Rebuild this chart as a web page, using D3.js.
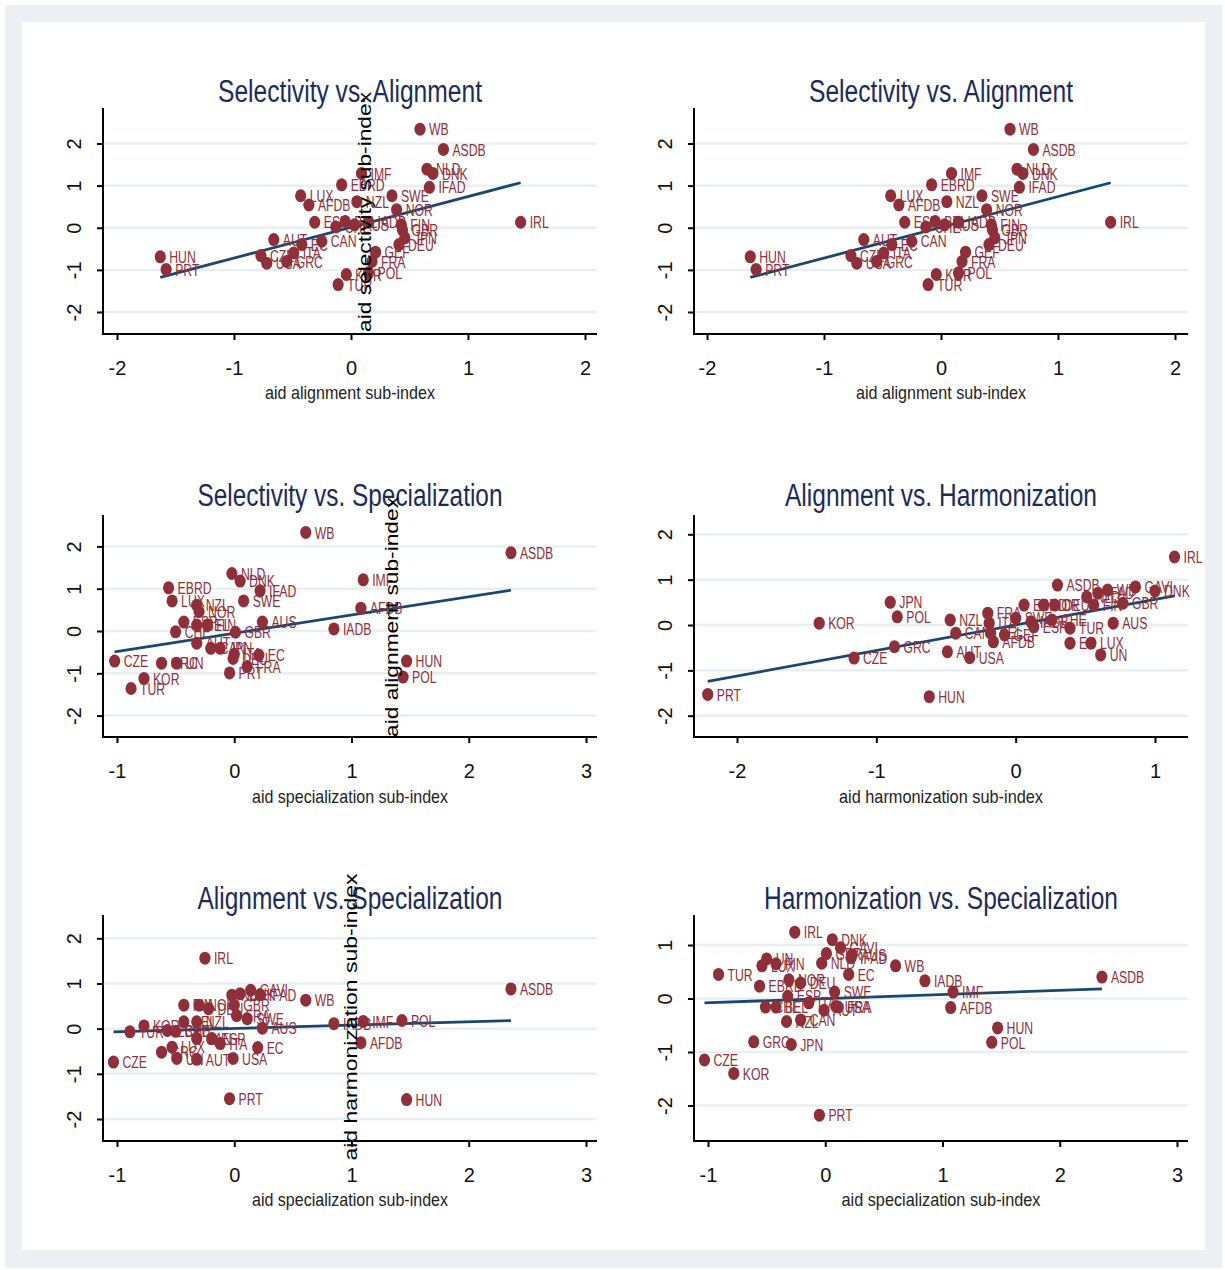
<!DOCTYPE html>
<html><head><meta charset="utf-8">
<script src="https://cdn.jsdelivr.net/npm/d3@7"></script>
<style>body{margin:0;background:#fff}svg{display:block}</style>
</head><body><svg id="c" width="1225" height="1270"></svg>
<script>
// ---------- DATA ----------
// Panel 1 & 2: Selectivity (y) vs Alignment (x)
const sa_donor = ["HUN","PRT","AUT","CZE","USA","GRC","ITA","EC","CAN","ESP","LUX","AFDB","EBRD","IMF","NZL","SWE","NOR","CHE","BEL","AUS","IADB","FIN","GBR","JPN","DEU","GEF","FRA","POL","KOR","TUR","WB","ASDB","NLD","DNK","IFAD","IRL"];
const sa_alignment = [-1.63,-1.58,-0.66,-0.77,-0.72,-0.55,-0.49,-0.42,-0.25,-0.31,-0.43,-0.36,-0.08,0.09,0.05,0.35,0.39,-0.13,-0.05,0.03,0.15,0.43,0.44,0.46,0.41,0.21,0.18,0.15,-0.04,-0.11,0.59,0.79,0.65,0.70,0.67,1.45];
const sa_selectivity = [-0.69,-0.99,-0.28,-0.66,-0.84,-0.80,-0.60,-0.40,-0.32,0.13,0.76,0.54,1.02,1.29,0.62,0.76,0.43,0.02,0.15,0.07,0.13,0.07,-0.05,-0.24,-0.40,-0.58,-0.80,-1.07,-1.11,-1.35,2.34,1.86,1.39,1.29,0.96,0.13];

// Panel 3: Selectivity (y) vs Specialization (x)
const ss_donor = ["WB","NLD","DNK","IFAD","EBRD","LUX","SWE","NZL","NOR","AUS","ESP","CHE","BEL","FIN","GBR","AUT","CAN","JPN","DEU","ITA","EC","FRA","PRT","CZE","GRC","UN","KOR","TUR","IMF","AFDB","IADB","HUN","POL","ASDB"];
const ss_specialization = [.61,-.02,.05,.22,-.56,-.53,.08,-.32,-.30,.24,-.43,-.50,-.32,-.23,.01,-.32,-.20,-.12,-.01,.00,.21,.11,-.04,-1.02,-.62,-.49,-.77,-.88,1.10,1.08,.85,1.47,1.44,2.36];
const ss_selectivity = [2.33,1.36,1.18,.95,1.02,.71,.71,.61,.46,.21,.21,-.02,.14,.14,-.03,-.29,-.41,-.41,-.65,-.55,-.57,-.84,-.99,-.71,-.76,-.76,-1.12,-1.36,1.21,.54,.05,-.71,-1.09,1.85];

// Panel 4: Alignment (y) vs Harmonization (x)
const ah_donor = ["PRT","KOR","CZE","JPN","POL","GRC","HUN","NZL","CAN","AUT","USA","FRA","ITA","BEL","AFDB","GEF","SWE","IADB","ESP","EBRD","NOR","DEU","CHE","ASDB","EC","TUR","NLD","FIN","IFAD","WB","LUX","UN","AUS","GBR","GAVI","DNK","IRL"];
const ah_harmonization = [-2.21,-1.41,-1.16,-0.90,-0.85,-0.87,-0.62,-0.47,-0.43,-0.49,-0.33,-0.20,-0.19,-0.18,-0.16,-0.08,0.00,0.11,0.13,0.06,0.20,0.28,0.26,0.30,0.39,0.39,0.51,0.56,0.59,0.66,0.54,0.61,0.70,0.77,0.86,1.00,1.14];
const ah_alignment = [-1.53,0.04,-0.73,0.50,0.18,-0.48,-1.58,0.11,-0.18,-0.59,-0.72,0.26,0.04,-0.18,-0.37,-0.22,0.15,0.07,-0.04,0.44,0.44,0.44,0.11,0.88,-0.40,-0.07,0.62,0.44,0.70,0.77,-0.40,-0.66,0.04,0.48,0.84,0.75,1.50];

// Panel 5: Alignment (y) vs Specialization (x)
const as_donor = ["IRL","CZE","PRT","TUR","KOR","AUS","EC","USA","WB","GAVI","IFAD","AUT","UN","GRC","LUX","ITA","CAN","ESP","EBRD","CHE","NZL","BEL","FIN","NOR","DEU","NLD","DNK","SWE","FRA","GBR","ASDB","IADB","IMF","POL","AFDB","HUN"];
const as_specialization = [-0.25,-1.03,-0.04,-0.89,-0.77,0.24,0.20,-0.01,0.61,0.14,0.22,-0.32,-0.49,-0.62,-0.53,-0.12,-0.32,-0.19,-0.57,-0.50,-0.32,-0.43,-0.43,-0.30,-0.22,-0.02,0.05,0.11,0.02,0.00,2.36,0.85,1.10,1.43,1.08,1.47];
const as_alignment = [1.56,-0.74,-1.55,-0.07,0.06,0.01,-0.42,-0.66,0.63,0.85,0.75,-0.68,-0.66,-0.52,-0.41,-0.33,-0.22,-0.22,-0.04,-0.06,0.15,0.15,0.52,0.52,0.44,0.74,0.77,0.22,0.29,0.52,0.88,0.11,0.16,0.18,-0.31,-1.57];

// Panel 6: Harmonization (y) vs Specialization (x)
const hs_donor = ["IRL","DNK","GAVI","GBR","NLD","IFAD","AUS","WB","EC","TUR","UN","LUX","FIN","EBRD","NOR","DEU","ESP","ITA","CHE","BEL","NZL","CAN","AUT","USA","SWE","FRA","GRC","JPN","CZE","KOR","PRT","IADB","IMF","AFDB","HUN","POL","ASDB"];
const hs_specialization = [-0.26,0.06,0.13,0.01,-0.03,0.22,0.23,0.60,0.20,-0.91,-0.50,-0.54,-0.42,-0.56,-0.31,-0.21,-0.32,-0.14,-0.51,-0.42,-0.33,-0.21,-0.01,0.09,0.08,0.11,-0.61,-0.29,-1.03,-0.78,-0.05,0.85,1.09,1.07,1.47,1.42,2.36];
const hs_harmonization = [1.24,1.10,0.95,0.84,0.66,0.76,0.82,0.61,0.45,0.45,0.74,0.61,0.65,0.23,0.35,0.29,0.04,-0.08,-0.16,-0.16,-0.43,-0.40,-0.22,-0.15,0.12,-0.16,-0.81,-0.86,-1.15,-1.40,-2.18,0.33,0.12,-0.17,-0.55,-0.82,0.40];

// Linear fit lines (intercept, slope) per panel
const fitIntercept = [0.01, 0.01, -0.054, 0.0, 0.005, -0.002];
const fitSlope = [0.73, 0.73, 0.432, 0.5625, 0.074, 0.077];

// Titles and ticks
const panelTitles = ["Selectivity vs. Alignment","Selectivity vs. Alignment","Selectivity vs. Specialization","Alignment vs. Harmonization","Alignment vs. Specialization","Harmonization vs. Specialization"];
const xAxisTitles = ["aid alignment sub-index","aid alignment sub-index","aid specialization sub-index","aid harmonization sub-index","aid specialization sub-index","aid specialization sub-index"];
const strayYTitles = ["aid selectivity sub-index", null, "aid alignment sub-index", null, "aid harmonization sub-index", null];
const xTicksA = [-2,-1,0,1,2];
const xTicksS = [-1,0,1,2,3];
const xTicksH = [-2,-1,0,1];
const yTicks5 = [-2,-1,0,1,2];
const yTicks4 = [-2,-1,0,1];

const panelData = [
  {donor: sa_donor, x: sa_alignment, y: sa_selectivity, xt: xTicksA, yt: yTicks5},
  {donor: sa_donor, x: sa_alignment, y: sa_selectivity, xt: xTicksA, yt: yTicks5},
  {donor: ss_donor, x: ss_specialization, y: ss_selectivity, xt: xTicksS, yt: yTicks5},
  {donor: ah_donor, x: ah_harmonization, y: ah_alignment, xt: xTicksH, yt: yTicks5},
  {donor: as_donor, x: as_specialization, y: as_alignment, xt: xTicksS, yt: yTicks5},
  {donor: hs_donor, x: hs_specialization, y: hs_harmonization, xt: xTicksS, yt: yTicks4}
];

// ---------- LAYOUT ----------
const layout = [
  {L:103, R:597, T:108, B:334, xd:[-2,2], xr:[117,585], yd:[-2,2], yr:[312,143.5], cx:350, tY:102, tW:264, aY:399, aW:170, sx:371, sy:212, sl:240},
  {L:694, R:1188, T:108, B:334, xd:[-2,2], xr:[707,1175], yd:[-2,2], yr:[312,143.5], cx:941, tY:102, tW:264, aY:399, aW:170},
  {L:103, R:597, T:515, B:737, xd:[-1,3], xr:[117,586], yd:[-2,2], yr:[715.6,546.4], cx:350, tY:506, tW:305, aY:803, aW:196, sx:398, sy:617, sl:240},
  {L:694, R:1188, T:515, B:737, xd:[-2,1], xr:[737,1155], yd:[-2,2], yr:[715.7,534.3], cx:941, tY:506, tW:312, aY:803, aW:204},
  {L:103, R:597, T:915, B:1141, xd:[-1,3], xr:[117,586], yd:[-2,2], yr:[1119,938.3], cx:350, tY:909, tW:305, aY:1206, aW:196, sx:357, sy:1017, sl:287},
  {L:694, R:1188, T:915, B:1141, xd:[-1,3], xr:[708,1177], yd:[-2,1], yr:[1105.5,945], cx:941, tY:909, tW:354, aY:1206, aW:199}
];

const MARK = "#8f2f3a", FIT = "#1a476f", GRID = "#e8eff2", TITLE = "#1c2b5a";
const FONT = "'Liberation Sans', Arial, sans-serif";

const svg = d3.select("#c");
svg.append("rect").attr("x",0).attr("y",0).attr("width",1225).attr("height",1270).attr("fill","#fff");
svg.append("rect").attr("x",5).attr("y",5).attr("width",1217).attr("height",1263).attr("fill","#eaf0f4");
svg.append("rect").attr("x",22).attr("y",22).attr("width",1183).attr("height",1228).attr("fill","#fff");

panelData.forEach((pd, i) => {
  const lo = layout[i];
  const g = svg.append("g");
  const xs = d3.scaleLinear().domain(lo.xd).range(lo.xr);
  const ys = d3.scaleLinear().domain(lo.yd).range(lo.yr);

  // gridlines
  g.selectAll("line.grid").data(pd.yt).join("line")
    .attr("x1", lo.L).attr("x2", lo.R)
    .attr("y1", d => ys(d)).attr("y2", d => ys(d))
    .attr("stroke", GRID).attr("stroke-width", 2.5);

  // y axis
  const ya = g.append("g").attr("transform", `translate(${lo.L},0)`)
    .call(d3.axisLeft(ys).tickValues(pd.yt).tickSize(6).tickFormat(d => String(d)));
  ya.select(".domain").remove();
  ya.selectAll(".tick line").attr("stroke","#000").attr("stroke-width",2);
  ya.selectAll(".tick text").attr("transform","rotate(-90)").attr("x",0).attr("y",-22).attr("dy",0)
    .attr("text-anchor","middle").attr("font-family",FONT).attr("font-size",20).attr("fill","#111");

  // x axis
  const xa = g.append("g").attr("transform", `translate(0,${lo.B})`)
    .call(d3.axisBottom(xs).tickValues(pd.xt).tickSize(6).tickFormat(d => String(d)));
  xa.select(".domain").remove();
  xa.selectAll(".tick line").attr("stroke","#000").attr("stroke-width",2);
  xa.selectAll(".tick text").attr("y",41).attr("dy",0)
    .attr("font-family",FONT).attr("font-size",20).attr("fill","#111");

  // axis lines
  g.append("line").attr("x1",lo.L).attr("x2",lo.L).attr("y1",lo.T).attr("y2",lo.B+1)
    .attr("stroke","#000").attr("stroke-width",2);
  g.append("line").attr("x1",lo.L-1).attr("x2",lo.R).attr("y1",lo.B).attr("y2",lo.B)
    .attr("stroke","#000").attr("stroke-width",2);

  // fit line
  const xmin = d3.min(pd.x), xmax = d3.max(pd.x);
  const fitPts = [xmin, xmax].map(v => [v, fitIntercept[i] + fitSlope[i]*v]);
  g.append("path").attr("d", d3.line().x(d => xs(d[0])).y(d => ys(d[1]))(fitPts))
    .attr("stroke", FIT).attr("stroke-width", 2.8).attr("fill","none");

  // points
  const pts = pd.donor.map((n, k) => ({n, x: pd.x[k], y: pd.y[k]}));
  g.selectAll("ellipse.pt").data(pts).join("ellipse")
    .attr("cx", d => xs(d.x)).attr("cy", d => ys(d.y))
    .attr("rx", 5.6).attr("ry", 6.5).attr("fill", MARK);
  g.selectAll("text.lbl").data(pts).join("text")
    .attr("transform", d => `translate(${xs(d.x)+9},${ys(d.y)}) scale(0.72,1)`)
    .attr("dy","0.36em").attr("font-family",FONT).attr("font-size",17).attr("fill",MARK)
    .text(d => d.n);

  // title
  svg.append("text").attr("x", lo.cx).attr("y", lo.tY).attr("text-anchor","middle")
    .attr("font-family",FONT).attr("font-size",31).attr("fill",TITLE)
    .attr("textLength", lo.tW).attr("lengthAdjust","spacingAndGlyphs")
    .text(panelTitles[i]);
  // x axis title
  svg.append("text").attr("x", lo.cx).attr("y", lo.aY).attr("text-anchor","middle")
    .attr("font-family",FONT).attr("font-size",19).attr("fill","#222")
    .attr("textLength", lo.aW).attr("lengthAdjust","spacingAndGlyphs")
    .text(xAxisTitles[i]);
  // stray vertical y title
  if (strayYTitles[i]) {
    svg.append("text").attr("transform", `translate(${lo.sx},${lo.sy}) rotate(-90)`)
      .attr("text-anchor","middle").attr("font-family",FONT).attr("font-size",18).attr("fill","#000")
      .attr("textLength", lo.sl).attr("lengthAdjust","spacingAndGlyphs")
      .text(strayYTitles[i]);
  }
});
</script>
</body></html>
